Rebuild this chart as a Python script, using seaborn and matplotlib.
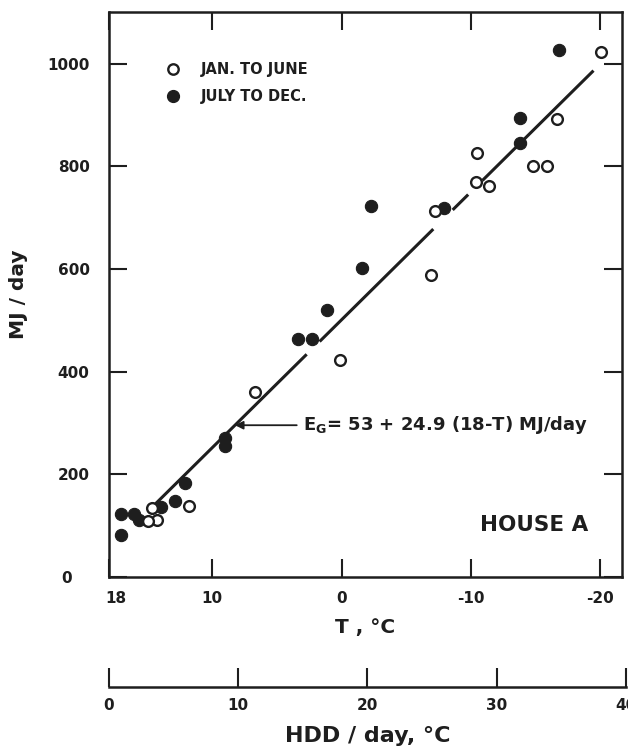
import matplotlib
matplotlib.use("Agg")
import numpy as np
import pandas as pd
import matplotlib.pyplot as plt
import matplotlib.transforms as mtransforms
from matplotlib.lines import Line2D
import seaborn as sns

# Monthly observations: outdoor temperature (deg C) and gas energy use (MJ/day)
jan_june_T = [-20.1, -16.7, -14.8, -15.9, -10.5, -10.4, -11.4, -7.2, -6.9, 0.1, 6.7, 11.8, 14.3, 15.0, 14.7]
jan_june_E = [1023, 893, 800, 800, 827, 770, 762, 714, 589, 422, 361, 139, 111, 110, 134]

july_dec_T = [-16.8, -13.8, -13.8, -7.9, -2.3, -1.6, 1.15, 2.3, 3.4, 9.0, 9.0, 12.1, 12.9, 14.0, 15.7, 16.1, 17.1, 17.1]
july_dec_E = [1026, 895, 845, 720, 722, 603, 520, 463, 463, 270, 255, 183, 149, 137, 111, 122, 122, 82]

# Regression E_G = a + b (18 - T)
fit_a = 53.0
fit_b = 24.9
base_T = 18.0

# Temperature spans over which the fitted line is drawn (broken around markers)
fit_segments = [(14.8, 2.7), (1.7, -7.1), (-8.6, -9.8), (-10.9, -19.5)]

t_ticks = [18, 10, 0, -10, -20]
t_labels = ["18", "10", "0", "-10", "-20"]
e_ticks = [0, 200, 400, 600, 800, 1000]
e_labels = ["0", "200", "400", "600", "800", "1000"]
hdd_ticks = [0, 10, 20, 30, 40]
hdd_labels = ["0", "10", "20", "30", "40"]

sns.set_theme(style="white")
plt.rcParams["font.family"] = ["DejaVu Sans"]
plt.rcParams["font.weight"] = "bold"

ink = "#1e1e1e"

df = pd.concat([
    pd.DataFrame({"T": jan_june_T, "E": jan_june_E, "period": "JAN. TO JUNE"}),
    pd.DataFrame({"T": july_dec_T, "E": july_dec_E, "period": "JULY TO DEC."}),
], ignore_index=True)

W, H = 628, 748
fig = plt.figure(figsize=(W / 100, H / 100), dpi=100)
fig.patch.set_facecolor("white")

px_per_deg = 12.92
ax_left, ax_right, ax_top, ax_bot = 109, 622, 12, 577
ax = fig.add_axes([ax_left / W, (H - ax_bot) / H, (ax_right - ax_left) / W, (ax_bot - ax_top) / H])
t_min = base_T - (ax_right - ax_left) / px_per_deg
ax.set_xlim(base_T, t_min)
ax.set_ylim(0, 1101)

# Fitted line
for t0, t1 in fit_segments:
    tt = np.array([t0, t1])
    ax.plot(tt, fit_a + fit_b * (base_T - tt), color=ink, lw=2.2, solid_capstyle="butt", zorder=2)

# Observations
sns.scatterplot(data=df[df["period"] == "JULY TO DEC."], x="T", y="E", ax=ax,
                s=78, color=ink, edgecolor=ink, linewidth=0.8, zorder=3, legend=False)
sns.scatterplot(data=df[df["period"] == "JAN. TO JUNE"], x="T", y="E", ax=ax,
                s=60, facecolor="white", edgecolor=ink, linewidth=1.7, zorder=4, legend=False)

for side in ["left", "right", "top", "bottom"]:
    ax.spines[side].set_visible(True)
    ax.spines[side].set_color(ink)
    ax.spines[side].set_linewidth(1.8)

ax.set_xticks(t_ticks)
ax.set_xticklabels(t_labels)
ax.set_yticks(e_ticks)
ax.set_yticklabels(e_labels)
ax.tick_params(axis="both", direction="in", length=13, width=1.5, color=ink,
               bottom=True, left=True, top=True, right=True,
               labeltop=False, labelright=False,
               labelsize=11, labelcolor=ink)
ax.tick_params(axis="x", pad=10)
ax.tick_params(axis="y", pad=14)
for lab in ax.get_xticklabels() + ax.get_yticklabels():
    lab.set_fontweight("bold")

# Nudge the "18" and "0" corner labels as lettered on the frame
xl = ax.get_xticklabels()
xl[0].set_transform(xl[0].get_transform() + mtransforms.ScaledTranslation(7 / 100, 0, fig.dpi_scale_trans))
yl = ax.get_yticklabels()
yl[0].set_transform(yl[0].get_transform() + mtransforms.ScaledTranslation(-18 / 100, 0, fig.dpi_scale_trans))

ax.set_xlabel("T , °C", fontsize=14.5, fontweight="bold", color=ink, labelpad=9)
ax.set_ylabel("MJ / day", fontsize=14.5, fontweight="bold", color=ink, labelpad=14)

# Legend
handles = [
    Line2D([], [], ls="none", marker="o", markersize=7.5, markerfacecolor="white",
           markeredgecolor=ink, markeredgewidth=1.7),
    Line2D([], [], ls="none", marker="o", markersize=8.5, markerfacecolor=ink,
           markeredgecolor=ink),
]
leg = ax.legend(handles, ["JAN. TO JUNE", "JULY TO DEC."], loc="upper left",
                bbox_to_anchor=(0.07, 0.935), frameon=False, handletextpad=0.9,
                labelspacing=0.85, prop={"size": 10.5, "weight": "bold"})
for txt in leg.get_texts():
    txt.set_color(ink)

# Equation with pointer to the fitted line
arrow_T = 8.25
ax.annotate(r"E$_\mathregular{G}$= 53 + 24.9 (18-T) MJ/day",
            xy=(arrow_T, fit_a + fit_b * (base_T - arrow_T)),
            xytext=(3.0, fit_a + fit_b * (base_T - arrow_T)),
            fontsize=13, fontweight="bold", color=ink, va="center", ha="left",
            arrowprops=dict(arrowstyle="-|>", color=ink, lw=1.3, mutation_scale=12,
                            shrinkA=2, shrinkB=0))

ax.text(0.828, 0.092, "HOUSE A", transform=ax.transAxes, fontsize=15.5,
        fontweight="bold", color=ink, ha="center", va="center")

# Heating degree-day scale below the temperature axis
hdd_right = 626
ax2 = fig.add_axes([ax_left / W, (H - 687) / H, (hdd_right - ax_left) / W, 25 / H])
ax2.set_xlim(0, (hdd_right - ax_left) / px_per_deg)
ax2.set_ylim(0, 1)
ax2.set_facecolor("none")
for side in ["left", "right", "top"]:
    ax2.spines[side].set_visible(False)
ax2.spines["bottom"].set_visible(True)
ax2.spines["bottom"].set_color(ink)
ax2.spines["bottom"].set_linewidth(1.8)
ax2.set_yticks([])
ax2.set_xticks(hdd_ticks)
ax2.set_xticklabels(hdd_labels)
ax2.tick_params(axis="x", direction="in", length=14, width=1.5, color=ink,
                bottom=True, labelsize=11, labelcolor=ink, pad=8)
for lab in ax2.get_xticklabels():
    lab.set_fontweight("bold")
ax2.set_xlabel("HDD / day, °C", fontsize=16, fontweight="bold", color=ink, labelpad=9)

fig.savefig("out.png", dpi=100, facecolor="white")
